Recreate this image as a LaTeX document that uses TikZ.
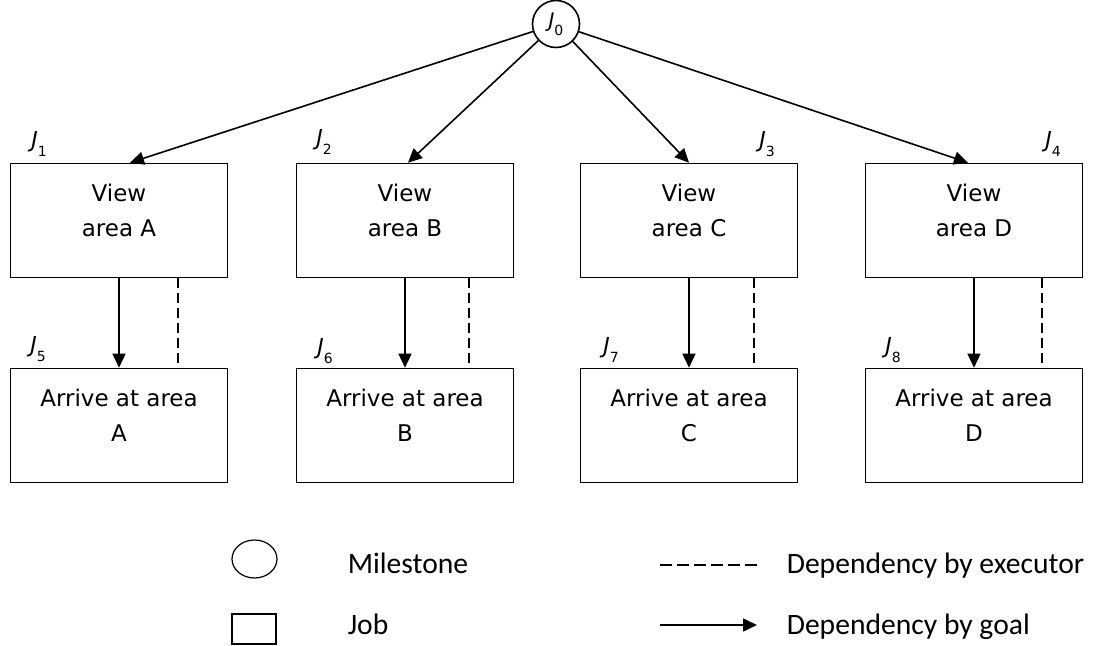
\documentclass[tikz,border=0pt]{standalone}
\usepackage{fontspec}
\setmainfont{DejaVu Sans}
\newfontfamily\legendfont{Carlito}
\usetikzlibrary{arrows.meta,positioning,calc,shapes.geometric}
\newcommand{\jlab}[1]{{\itshape J}\raisebox{-0.7ex}{\scriptsize #1}}

\begin{document}
\begin{tikzpicture}[x=0.5pt,y=-0.5pt,>={Triangle[length=7pt,width=6.5pt]},line width=0.8pt]
\tikzstyle{job}=[draw,minimum width=108.5pt,minimum height=57pt,inner sep=0pt]
\tikzstyle{jt}=[align=center,font=\fontsize{11.5}{17.5}\selectfont,inner sep=0pt]
\tikzstyle{jl}=[font=\fontsize{11}{13}\selectfont,inner sep=0pt]
\tikzstyle{exe}=[dash pattern=on 5pt off 2.5pt]
\tikzstyle{leg}=[font=\legendfont\fontsize{14.8}{18}\selectfont,anchor=base west,inner sep=0pt]
\useasboundingbox (0,0) rectangle (1100,646);
% milestone
\node[draw,circle,minimum size=23.5pt,inner sep=0pt,font=\fontsize{10}{12}\selectfont] (j0) at (556,24) {\jlab{0}};
% view jobs
\node[job] (v1) at (119,220.5) {};
\node[job] (v2) at (405,220.5) {};
\node[job] (v3) at (689,220.5) {};
\node[job] (v4) at (974,220.5) {};
\node[jt] (v1t) at (119,210.5) {View\\area A};
\node[jt] (v2t) at (405,210.5) {View\\area B};
\node[jt] (v3t) at (689,210.5) {View\\area C};
\node[jt] (v4t) at (974,210.5) {View\\area D};
% arrive jobs
\node[job] (a1) at (119,425.5) {};
\node[job] (a2) at (405,425.5) {};
\node[job] (a3) at (689,425.5) {};
\node[job] (a4) at (974,425.5) {};
\node[jt] (a1t) at (119,415.5) {Arrive at area\\A};
\node[jt] (a2t) at (405,415.5) {Arrive at area\\B};
\node[jt] (a3t) at (689,415.5) {Arrive at area\\C};
\node[jt] (a4t) at (974,415.5) {Arrive at area\\D};
% job labels
\node[jl] (l1) at (39,144) {\jlab{1}};
\node[jl] (l2) at (324,142) {\jlab{2}};
\node[jl] (l3) at (767,144) {\jlab{3}};
\node[jl] (l4) at (1053,144) {\jlab{4}};
\node[jl] (l5) at (38,349) {\jlab{5}};
\node[jl] (l6) at (325,351) {\jlab{6}};
\node[jl] (l7) at (611,350) {\jlab{7}};
\node[jl] (l8) at (893,350) {\jlab{8}};
% dependencies
\draw[->] (j0) -- ([xshift=5.5pt]v1.north); \draw[->] (j0) -- ([xshift=1.5pt]v2.north);
\draw[->] (j0) -- (v3.north); \draw[->] (j0) -- ([xshift=-3pt]v4.north);
\draw[->] (v1) -- (a1); \draw[->] (v2) -- (a2); \draw[->] (v3) -- (a3); \draw[->] (v4) -- (a4);
\draw[exe] ($(v1.south)+(59,0)$) -- ($(a1.north)+(59,0)$);
\draw[exe] ($(v2.south)+(64,0)$) -- ($(a2.north)+(64,0)$);
\draw[exe] ($(v3.south)+(65,0)$) -- ($(a3.north)+(65,0)$);
\draw[exe] ($(v4.south)+(68,0)$) -- ($(a4.north)+(68,0)$);
% legend
\node[draw,ellipse,minimum width=22.5pt,minimum height=19pt,inner sep=0pt,line width=0.6pt] (lm) at (254.5,559) {};
\node[draw,minimum width=22pt,minimum height=15pt,inner sep=0pt] (lj) at (254,629) {};
\node[leg] (lmt) at (347,574) {Milestone};
\node[leg] (ljt) at (347,635) {Job};
\coordinate (le1) at (660,565); \coordinate (le2) at (757,565);
\coordinate (lg1) at (660,625); \coordinate (lg2) at (757,625);
\draw[dash pattern=on 6pt off 2.5pt] (le1) -- (le2); \draw[->] (lg1) -- (lg2);
\node[leg] (let) at (786,574) {Dependency by executor};
\node[leg] (lgt) at (786,635) {Dependency by goal};
\end{tikzpicture}
\end{document}
